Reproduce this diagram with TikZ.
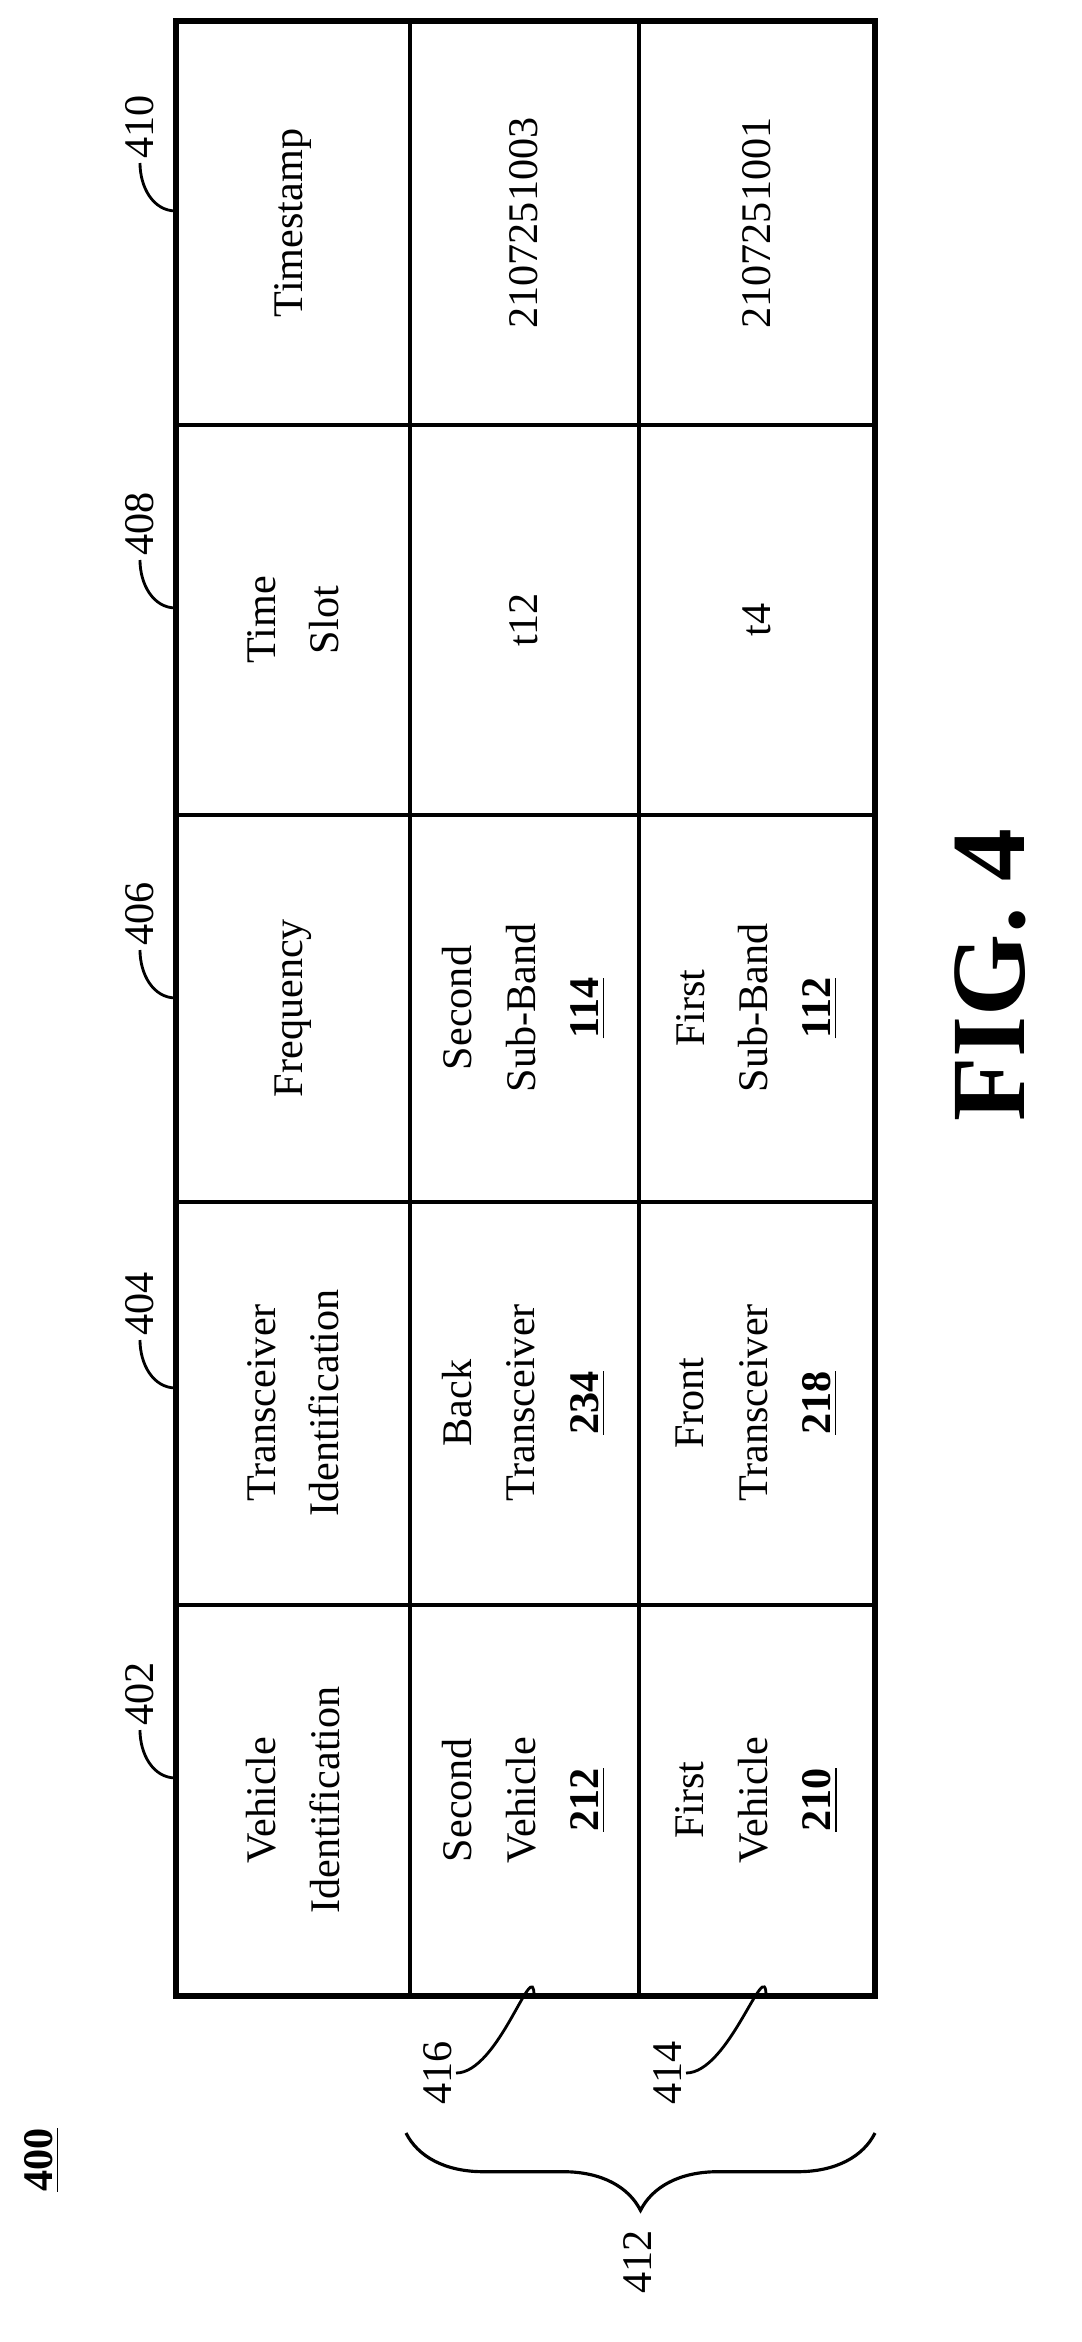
\documentclass[tikz,border=0pt]{standalone}
\usepackage{fontspec}
\setmainfont{Liberation Serif}
\usetikzlibrary{decorations.pathreplacing}
\newcommand{\refnum}[1]{\textbf{\underline{#1}}}
\begin{document}
\begin{tikzpicture}[x=0.01cm,y=-0.01cm,
  cell/.style={rotate=90,align=center,font=\fontsize{12}{18}\selectfont},
  refnode/.style={rotate=90,font=\fontsize{12}{14}\selectfont},
  leader/.style={line width=0.8pt}]
  \useasboundingbox (0,0) rectangle (1082,2342);
  % table grid
  \draw[line width=1.6pt] (176,21) rectangle (875,1996);
  \foreach \x in {410,639} \draw[line width=0.9pt] (\x,21) -- (\x,1996);
  \foreach \y in {425,815,1202,1605} \draw[line width=0.9pt] (176,\y) -- (875,\y);
  % header row
  \node[cell] (ts) at (293,223) {Timestamp};
  \node[cell] (slot) at (293,620) {Time\\Slot};
  \node[cell] (freq) at (293,1008) {Frequency};
  \node[cell] (trid) at (293,1403) {Transceiver\\Identification};
  \node[cell] (veid) at (293,1800) {Vehicle\\Identification};
  % second row
  \node[cell] (ts2) at (524,223) {2107251003};
  \node[cell] (slot2) at (524,620) {t12};
  \node[cell] (freq2) at (524,1008) {Second\\Sub-Band\\\refnum{114}};
  \node[cell] (trid2) at (524,1403) {Back\\Transceiver\\\refnum{234}};
  \node[cell] (veid2) at (524,1800) {Second\\Vehicle\\\refnum{212}};
  % third row
  \node[cell] (ts3) at (757,223) {2107251001};
  \node[cell] (slot3) at (757,620) {t4};
  \node[cell] (freq3) at (757,1008) {First\\Sub-Band\\\refnum{112}};
  \node[cell] (trid3) at (757,1403) {Front\\Transceiver\\\refnum{218}};
  \node[cell] (veid3) at (757,1800) {First\\Vehicle\\\refnum{210}};
  % column references
  \foreach \n/\y in {410/113,408/510,406/900,404/1290,402/1680}{
    \node[refnode,anchor=west,inner sep=1pt] (r\n) at (140,\y+50) {\n};
    \coordinate (e\n) at (176,\y+98);
    \draw[leader] (e\n) to[out=180,in=-90] (r\n.west);
  }
  % row references
  \node[refnode,anchor=south,inner sep=1pt] (r416) at (456,2073) {416};
  \coordinate (e416) at (534,1996);
  \draw[leader] (e416) to[out=90,in=0] (r416.south);
  \node[refnode,anchor=south,inner sep=1pt] (r414) at (686,2073) {414};
  \coordinate (e414) at (766,1996);
  \draw[leader] (e414) to[out=90,in=0] (r414.south);
  % brace
  \coordinate (b1) at (875,2133);
  \coordinate (b2) at (406,2133);
  \draw[line width=0.9pt,decorate,decoration={brace,amplitude=22pt}] (b1) -- (b2);
  \node[refnode] (r412) at (638,2262) {412};
  \node[refnode] (r400) at (42,2160) {\refnum{400}};
  \node[rotate=90,font=\fontsize{30}{30}\selectfont\bfseries] (fig) at (990,975) {FIG. 4};
\end{tikzpicture}
\end{document}
